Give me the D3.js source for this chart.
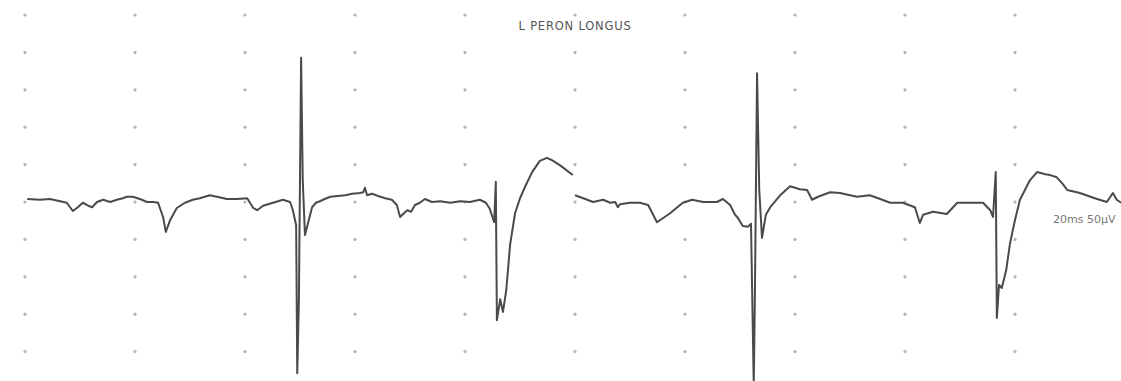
<!DOCTYPE html>
<html><head><meta charset="utf-8">
<script src="https://cdn.jsdelivr.net/npm/d3@7"></script>
<style>html,body{margin:0;padding:0;background:#fff;overflow:hidden}</style>
</head><body><svg id="c" width="1121" height="381"></svg>
<script>
// time in ms, amplitude in µV
const title = "L PERON LONGUS";
const scaleLabel = "20ms 50µV";
const gridTimes = [0,20,40,60,80,100,120,140,160,180];
const gridAmps = [250,200,150,100,50,0,-50,-100,-150,-200];

// [time ms, amplitude µV]
const sweep1 = [[0.4,4],[2.7,3],[4.5,4],[6.4,1],[7.6,-1],[8.7,-12],[9.6,-7],[10.5,-1],[11.5,-5],[12.2,-7],[13.1,0],[14.2,3],[15.5,0],[16.7,3],[17.8,5],[18.5,7],[19.6,7],[20.9,4],[22.2,0],[23.3,0],[24.2,-1],[25.1,-20],[25.6,-40],[26.4,-24],[27.6,-8],[29.1,-1],[30.5,3],[31.8,5],[33.6,9],[34.9,7],[36.7,4],[38.5,4],[40.4,5],[41.5,-8],[42.2,-11],[43.3,-5],[45.1,-1],[46.9,3],[48.2,0],[48.7,-11],[49.3,-31],[49.5,-229],[49.8,-131],[50.2,193],[50.5,29],[50.9,-44],[51.5,-27],[52.2,-7],[52.9,-1],[53.6,1],[54.5,4],[55.5,7],[56.9,8],[58.2,9],[59.5,11],[60.9,12],[61.5,13],[61.8,19],[62.2,9],[63.1,11],[64.2,8],[65.5,5],[66.7,3],[67.6,-4],[68.2,-20],[68.9,-15],[69.5,-11],[70.2,-13],[70.9,-4],[71.8,-1],[72.7,4],[74.0,0],[75.5,1],[77.3,-1],[79.1,1],[80.9,0],[82.7,3],[83.8,-1],[84.5,-9],[85.3,-27],[85.6,27],[85.8,-158],[86.4,-130],[86.9,-147],[87.5,-118],[88.2,-57],[89.1,-15],[90.0,5],[90.9,20],[92.2,40],[93.6,55],[94.9,59],[95.8,56],[97.3,49],[99.6,36]];

const sweep2 = [[100.0,9],[101.5,5],[103.3,0],[105.1,3],[106.4,-1],[107.3,0],[107.8,-7],[108.2,-3],[110.0,-1],[111.8,-1],[113.3,-4],[114.9,-27],[115.5,-24],[117.3,-15],[119.6,-1],[121.3,3],[123.3,0],[125.8,0],[126.9,4],[128.2,-4],[129.1,-17],[129.6,-21],[130.5,-32],[131.5,-33],[132.0,-29],[132.5,-245],[132.7,-131],[133.1,172],[133.5,16],[134.0,-48],[134.7,-17],[135.5,-7],[137.3,9],[139.1,21],[140.9,17],[142.2,16],[143.1,3],[144.2,7],[146.4,13],[148.2,12],[150.0,9],[151.3,7],[153.6,9],[155.5,4],[157.3,-1],[159.6,-1],[161.8,-7],[162.7,-28],[163.3,-17],[165.1,-13],[167.6,-16],[169.5,-1],[171.8,-1],[174.2,-1],[175.5,-11],[176.0,-20],[176.5,40],[176.7,-155],[177.1,-111],[177.6,-115],[178.4,-91],[179.1,-55],[180.0,-24],[180.9,3],[181.8,16],[182.7,29],[184.0,40],[185.5,37],[186.4,36],[187.6,33],[188.7,24],[189.5,16],[191.8,12],[194.5,5],[196.7,0],[197.8,12],[198.5,3],[199.3,-1]];

const svg = d3.select("#c");
const x = d3.scaleLinear().domain([0, 200]).range([25, 1125]);
const y = d3.scaleLinear().domain([250, -250]).range([15, 389]);

// grid dots
const pts = [];
gridTimes.forEach(t => gridAmps.forEach(a => pts.push([t, a])));
svg.append("g").selectAll("circle").data(pts).join("circle")
  .attr("cx", d => x(d[0])).attr("cy", d => y(d[1])).attr("r", 1.6)
  .attr("fill", "#b4b4b4");

const line = d3.line().x(d => x(d[0])).y(d => y(d[1]));
[sweep1, sweep2].forEach(data => {
  svg.append("path").datum(data).attr("d", line)
    .attr("fill", "none").attr("stroke", "#4a4a4a").attr("stroke-width", 2)
    .attr("stroke-linejoin", "round");
});

svg.append("text").attr("x", x(100)).attr("y", 30).attr("text-anchor", "middle")
  .attr("font-family", "DejaVu Sans, sans-serif").attr("font-size", 11.5)
  .attr("letter-spacing", 0.8)
  .attr("fill", "#555").text(title);
svg.append("text").attr("x", 1053).attr("y", 223)
  .attr("font-family", "DejaVu Sans, sans-serif").attr("font-size", 11)
  .attr("fill", "#777").text(scaleLabel);
</script></body></html>
